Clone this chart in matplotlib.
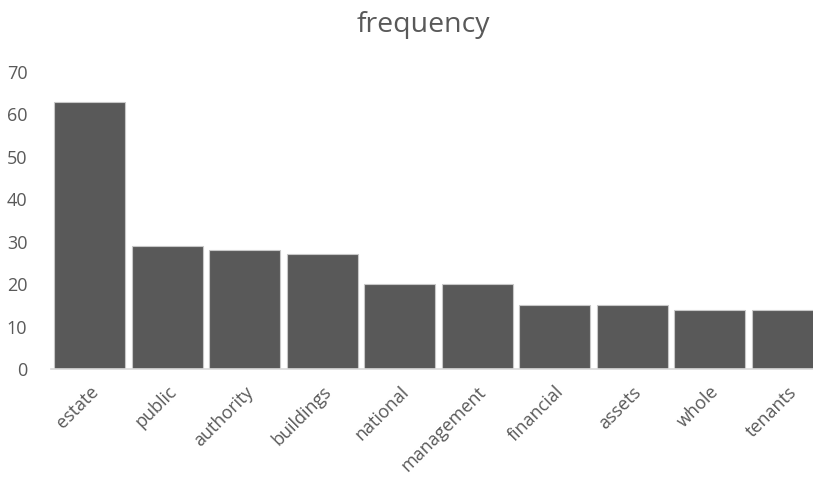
import matplotlib
matplotlib.use("Agg")
import matplotlib.pyplot as plt

words = ["estate", "public", "authority", "buildings", "national",
         "management", "financial", "assets", "whole", "tenants"]
counts = [63, 29, 28, 27, 20, 20, 15, 15, 14, 14]
y_ticks = [0, 10, 20, 30, 40, 50, 60, 70]

plt.rcParams["font.family"] = ["Open Sans", "DejaVu Sans"]

fig = plt.figure(figsize=(8.13, 4.78), dpi=100)
# axis box runs a little past the right edge of the canvas
ax = fig.add_axes([51 / 813, 109 / 478, 775 / 813, 297 / 478])

x = range(len(words))
ax.bar(x, counts, width=0.92, color="#595959", edgecolor="#c8c8c8", linewidth=0.8, zorder=2)

ax.set_xlim(-0.5, len(words) - 0.5)
ax.set_ylim(0, 70)
ax.set_yticks(y_ticks)
ax.set_yticklabels([str(v) for v in y_ticks], fontsize=13, color="#595959")
ax.set_xticks(list(x))
ax.set_xticklabels(words, rotation=45, ha="right", rotation_mode="anchor",
                   fontsize=13, color="#595959")
ax.tick_params(axis="both", length=0)
ax.tick_params(axis="y", pad=17)
ax.tick_params(axis="x", pad=10)

for side in ["top", "right", "left"]:
    ax.spines[side].set_visible(False)
ax.spines["bottom"].set_color("#d9d9d9")
ax.spines["bottom"].set_linewidth(1.2)

fig.text(423 / 813, 1 - 25 / 478, "frequency", ha="center", va="center",
         fontsize=20.5, color="#595959")

fig.savefig("out.png", dpi=100)
